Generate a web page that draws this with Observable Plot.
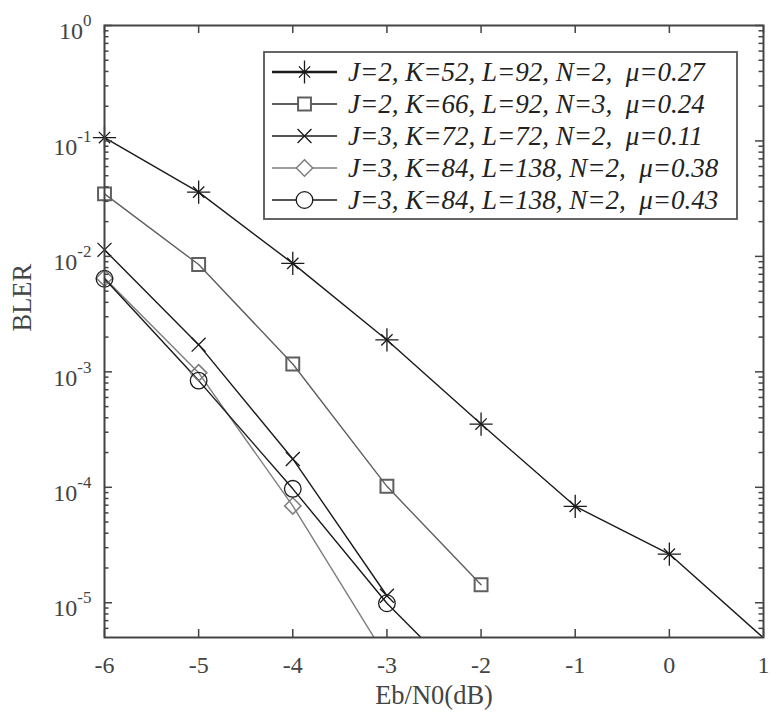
<!DOCTYPE html>
<html><head><meta charset="utf-8">
<script src="https://cdn.jsdelivr.net/npm/d3@7"></script>
<script src="https://cdn.jsdelivr.net/npm/@observablehq/plot@0.6"></script>
<style>body{margin:0;background:#fff;} svg{display:block}</style>
</head><body><div id="chart"></div>
<script>
// ---- data ----
const xTicks = [-6, -5, -4, -3, -2, -1, 0, 1];
const yExponents = [-5, -4, -3, -2, -1, 0];
const seriesNames = [
  "J=2, K=52, L=92, N=2,  \u03bc=0.27",
  "J=2, K=66, L=92, N=3,  \u03bc=0.24",
  "J=3, K=72, L=72, N=2,  \u03bc=0.11",
  "J=3, K=84, L=138, N=2,  \u03bc=0.38",
  "J=3, K=84, L=138, N=2,  \u03bc=0.43"
];
const s1x = [-6, -5, -4, -3, -2, -1, 0, 1];
const s1y = [0.107, 0.036, 0.0087, 0.00189, 3.53e-4, 6.84e-5, 2.64e-5, 4.95e-6];
const s2x = [-6, -5, -4, -3, -2];
const s2y = [0.0348, 0.0085, 0.00117, 1.02e-4, 1.43e-5];
const s3x = [-6, -5, -4, -3];
const s3y = [0.0114, 0.00172, 1.76e-4, 1.15e-5];
const s4x = [-6, -5, -4, -3];
const s4y = [0.0065, 9.8e-4, 6.9e-5, 3.3e-6];
const s5x = [-6, -5, -4, -3, -2];
const s5y = [0.0064, 8.4e-4, 9.7e-5, 9.9e-6, 1.5e-6];

// ---- styling ----
const colors = ["#1a1a1a", "#5f5f5f", "#1a1a1a", "#7d7d7d", "#1a1a1a"];
const W = 782, H = 720, mL = 104, mR = 19, mT = 25, mB = 83;
const plotW = W - mL - mR, plotH = H - mT - mB;
const yMin = 5e-6;
const axisColor = "#444";
const serif = "'Liberation Serif', 'Times New Roman', serif";

const toRows = (xs, ys) => xs.map((x, i) => ({x, y: ys[i]}));
const series = [toRows(s1x, s1y), toRows(s2x, s2y), toRows(s3x, s3y), toRows(s4x, s4y), toRows(s5x, s5y)];
const visible = d => d.y >= yMin;

const yMajor = yExponents.map(e => Math.pow(10, e));
const yMinor = [];
for (let e = -6; e < 0; e++) for (let k = 2; k <= 9; k++) {
  const v = k * Math.pow(10, e);
  if (v >= yMin && v <= 1) yMinor.push(v);
}

const marks = [];
// lines
series.forEach((d, i) => marks.push(Plot.line(d, {x: "x", y: "y", stroke: colors[i], strokeWidth: 1.4, clip: true})));
// markers
marks.push(Plot.dot(series[0], {x: "x", y: "y", filter: visible, symbol: "plus", r: 7.5, stroke: colors[0], strokeWidth: 1.3}));
marks.push(Plot.dot(series[0], {x: "x", y: "y", filter: visible, symbol: "times", r: 5.2, stroke: colors[0], strokeWidth: 1.3}));
marks.push(Plot.dot(series[1], {x: "x", y: "y", filter: visible, symbol: "square2", r: 8.2, stroke: colors[1], strokeWidth: 2, fill: "none"}));
marks.push(Plot.dot(series[2], {x: "x", y: "y", filter: visible, symbol: "times", r: 6.4, stroke: colors[2], strokeWidth: 1.3}));
marks.push(Plot.dot(series[3], {x: "x", y: "y", filter: visible, symbol: "diamond2", r: 7.4, stroke: colors[3], strokeWidth: 1.5, fill: "none"}));
marks.push(Plot.dot(series[4], {x: "x", y: "y", filter: visible, symbol: "circle", r: 8.3, stroke: colors[4], strokeWidth: 1.3, fill: "none"}));

// ticks (inward, on all four sides)
marks.push(Plot.tickY(yMajor, {y: d => d, insetRight: plotW - 8, stroke: axisColor, strokeWidth: 1.5}));
marks.push(Plot.tickY(yMajor, {y: d => d, insetLeft: plotW - 8, stroke: axisColor, strokeWidth: 1.5}));
marks.push(Plot.tickY(yMinor, {y: d => d, insetRight: plotW - 4.5, stroke: axisColor, strokeWidth: 1.5}));
marks.push(Plot.tickY(yMinor, {y: d => d, insetLeft: plotW - 4.5, stroke: axisColor, strokeWidth: 1.5}));
marks.push(Plot.tickX(xTicks, {x: d => d, insetTop: plotH - 8, stroke: axisColor, strokeWidth: 1.5}));
marks.push(Plot.tickX(xTicks, {x: d => d, insetBottom: plotH - 8, stroke: axisColor, strokeWidth: 1.5}));
marks.push(Plot.frame({stroke: axisColor, strokeWidth: 2}));

// tick labels
marks.push(Plot.text(xTicks, {x: d => d, text: d => String(d), frameAnchor: "bottom", dy: 28, lineAnchor: "middle", fontSize: 24, fill: axisColor}));
marks.push(Plot.text(yExponents, {y: d => Math.pow(10, d), text: d => "10^" + d, frameAnchor: "left", dx: -13, dy: 6, textAnchor: "end", lineAnchor: "middle", fontSize: 24, fill: axisColor}));
// axis labels
marks.push(Plot.text(["Eb/N0(dB)"], {text: d => d, frameAnchor: "bottom", dy: 58, lineAnchor: "middle", fontSize: 26.5, fill: axisColor}));
marks.push(Plot.text(["BLER"], {text: d => d, frameAnchor: "left", dx: -82, rotate: -90, lineAnchor: "middle", fontSize: 26.5, fill: axisColor}));

const svgNode = Plot.plot({
  width: W, height: H,
  marginLeft: mL, marginRight: mR, marginTop: mT, marginBottom: mB,
  style: {fontFamily: serif, background: "#fff", overflow: "visible"},
  x: {domain: [-6, 1], axis: null},
  y: {type: "log", domain: [yMin, 1], axis: null},
  marks
});
document.getElementById("chart").appendChild(svgNode);

const svg = d3.select(svgNode);
// superscript tick labels
svg.selectAll("text").each(function() {
  const t = d3.select(this);
  const s = t.text();
  if (/^10\^/.test(s)) {
    const exp = s.slice(3);
    t.text("");
    t.append("tspan").text("10");
    t.append("tspan").attr("dy", -13).attr("font-size", 17).text(exp);
  }
});

// legend
const lg = svg.append("g").attr("font-family", serif).attr("text-anchor", "start");
const lx = 264, ly = 52, lw = 473, lh = 167;
lg.append("rect").attr("x", lx).attr("y", ly).attr("width", lw).attr("height", lh)
  .attr("fill", "#fff").attr("stroke", "#555").attr("stroke-width", 1.8);
const legendWidths = [2.4, 2.2, 1.7, 1.7, 1.7];
const symbolPaths = [
  [d3.symbol(d3.symbolPlus, Math.PI * 7.5 * 7.5)(), d3.symbol(d3.symbolTimes, Math.PI * 5.2 * 5.2)()],
  [d3.symbol(d3.symbolSquare2, Math.PI * 8.2 * 8.2)()],
  [d3.symbol(d3.symbolTimes, Math.PI * 6.4 * 6.4)()],
  [d3.symbol(d3.symbolDiamond2, Math.PI * 7.4 * 7.4)()],
  [d3.symbol(d3.symbolCircle, Math.PI * 8.3 * 8.3)()]
];
const markerWidths = [1.3, 2, 1.3, 1.5, 1.3];
seriesNames.forEach((name, i) => {
  const cy = 72 + 32 * i;
  lg.append("line").attr("x1", 272).attr("x2", 337).attr("y1", cy).attr("y2", cy)
    .attr("stroke", colors[i]).attr("stroke-width", legendWidths[i]);
  symbolPaths[i].forEach(p => {
    lg.append("path").attr("d", p).attr("transform", `translate(304.5,${cy})`)
      .attr("fill", i === 1 || i === 3 || i === 4 ? "#fff" : "none")
      .attr("stroke", colors[i]).attr("stroke-width", markerWidths[i]);
  });
  lg.append("text").attr("x", 348).attr("y", cy).attr("dy", "0.34em")
    .attr("text-anchor", "start")
    .attr("font-size", 27).attr("font-style", "italic").attr("fill", "#222")
    .style("white-space", "pre")
    .text(name);
});
</script>
</body></html>
